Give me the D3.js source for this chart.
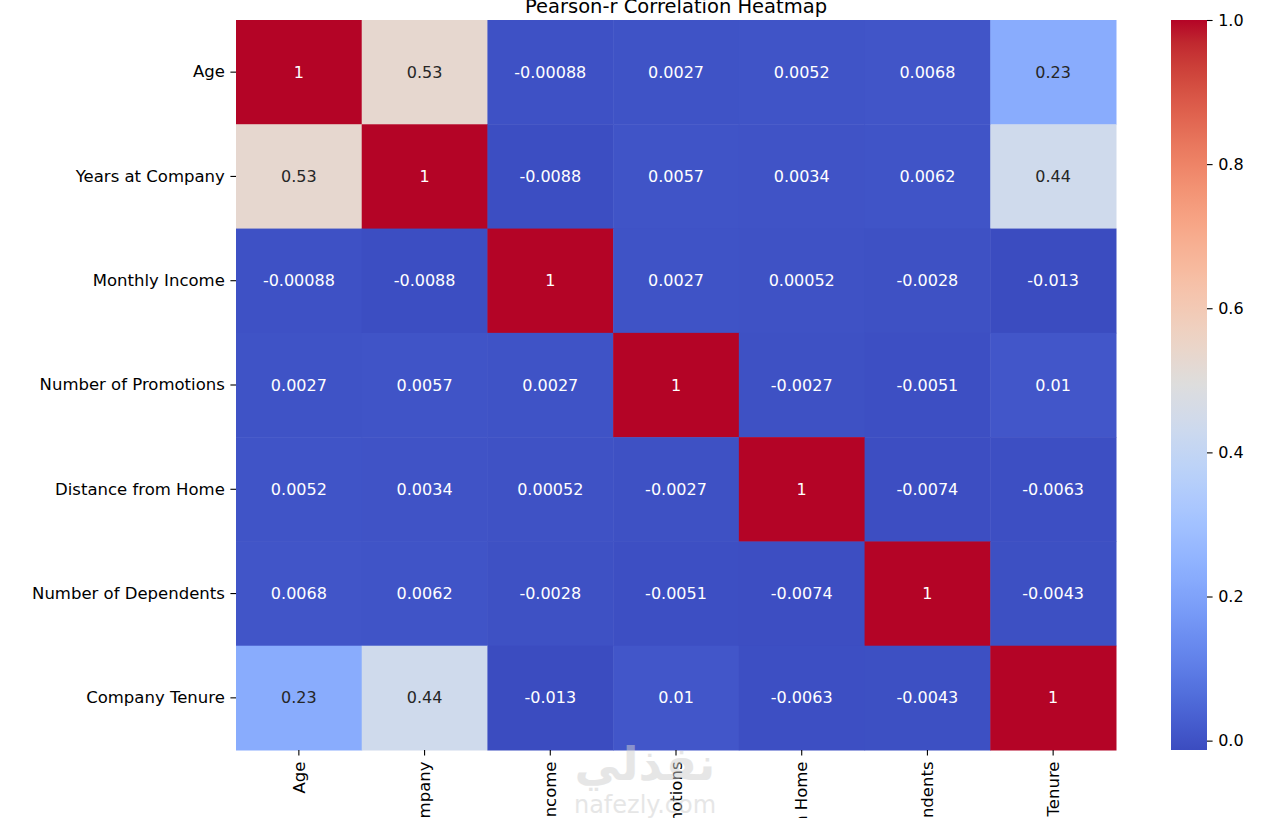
<!DOCTYPE html>
<html>
<head>
<meta charset="utf-8">
<script src="https://cdn.jsdelivr.net/npm/d3@7"></script>
<style>
  html, body { margin: 0; padding: 0; background: #fff; }
  svg { display: block; font-family: "DejaVu Sans", sans-serif; }
</style>
</head>
<body>
<svg id="chart" width="1287" height="818"></svg>
<script>
const labels = ["Age", "Years at Company", "Monthly Income", "Number of Promotions", "Distance from Home", "Number of Dependents", "Company Tenure"];
const rowAge   = [1, 0.53, -0.00088, 0.0027, 0.0052, 0.0068, 0.23];
const rowYears = [0.53, 1, -0.0088, 0.0057, 0.0034, 0.0062, 0.44];
const rowIncome = [-0.00088, -0.0088, 1, 0.0027, 0.00052, -0.0028, -0.013];
const rowPromo = [0.0027, 0.0057, 0.0027, 1, -0.0027, -0.0051, 0.01];
const rowDist  = [0.0052, 0.0034, 0.00052, -0.0027, 1, -0.0074, -0.0063];
const rowDep   = [0.0068, 0.0062, -0.0028, -0.0051, -0.0074, 1, -0.0043];
const rowTenure = [0.23, 0.44, -0.013, 0.01, -0.0063, -0.0043, 1];
const matrix = [rowAge, rowYears, rowIncome, rowPromo, rowDist, rowDep, rowTenure];
const annotText = [
  ["1","0.53","-0.00088","0.0027","0.0052","0.0068","0.23"],
  ["0.53","1","-0.0088","0.0057","0.0034","0.0062","0.44"],
  ["-0.00088","-0.0088","1","0.0027","0.00052","-0.0028","-0.013"],
  ["0.0027","0.0057","0.0027","1","-0.0027","-0.0051","0.01"],
  ["0.0052","0.0034","0.00052","-0.0027","1","-0.0074","-0.0063"],
  ["0.0068","0.0062","-0.0028","-0.0051","-0.0074","1","-0.0043"],
  ["0.23","0.44","-0.013","0.01","-0.0063","-0.0043","1"]
];
const cbTicks = [0.0, 0.2, 0.4, 0.6, 0.8, 1.0];
const title = "Pearson-r Correlation Heatmap";

// coolwarm (Moreland) control points
const coolwarmRGB = [
[59,76,192],[68,90,204],[77,104,215],[87,117,225],[98,130,234],[108,142,241],[119,154,247],[130,165,251],
[141,176,254],[152,185,255],[163,194,255],[174,201,253],[184,208,249],[194,213,244],[204,217,238],[213,219,230],
[221,221,221],[229,216,209],[236,211,197],[241,204,185],[245,196,173],[247,187,160],[247,177,148],[247,166,135],
[244,154,123],[241,141,111],[236,127,99],[229,112,88],[222,96,77],[213,80,66],[203,62,56],[192,40,47],[180,4,38]];
const cw = d3.piecewise(d3.interpolateRgb, coolwarmRGB.map(c => d3.rgb(c[0], c[1], c[2])));

const vmin = d3.min(matrix.flat()), vmax = d3.max(matrix.flat());
const norm = d3.scaleLinear().domain([vmin, vmax]).range([0, 1]).clamp(true);
const color = v => cw(norm(v));

const svg = d3.select("#chart");
const L = 236, R = 1116, T = 20, B = 750;
const x = d3.scaleBand().domain(d3.range(labels.length)).range([L, R]);
const y = d3.scaleBand().domain(d3.range(labels.length)).range([T, B]);

const cells = [];
matrix.forEach((row, i) => row.forEach((v, j) => cells.push({i, j, v, t: annotText[i][j]})));

svg.append("g").selectAll("rect").data(cells).join("rect")
  .attr("x", d => x(d.j)).attr("y", d => y(d.i))
  .attr("width", x.bandwidth() + 0.5).attr("height", y.bandwidth() + 0.5)
  .attr("fill", d => color(d.v));

function lum(c) {
  const r = d3.rgb(c);
  const f = u => { u /= 255; return u <= 0.03928 ? u / 12.92 : Math.pow((u + 0.055) / 1.055, 2.4); };
  return 0.2126 * f(r.r) + 0.7152 * f(r.g) + 0.0722 * f(r.b);
}

svg.append("g").selectAll("text").data(cells).join("text")
  .attr("x", d => x(d.j) + x.bandwidth() / 2)
  .attr("y", d => y(d.i) + y.bandwidth() / 2)
  .attr("text-anchor", "middle").attr("dominant-baseline", "central")
  .attr("font-size", "16px")
  .attr("fill", d => lum(color(d.v)) > 0.408 ? "#262626" : "#ffffff")
  .text(d => d.t);

// Y axis
const yAxis = d3.axisLeft(d3.scaleBand().domain(labels).range([T, B])).tickSize(5.6).tickPadding(5.6);
const gy = svg.append("g").attr("transform", `translate(${L},0)`).call(yAxis);
gy.select(".domain").remove();
gy.selectAll("text").attr("font-size", "16.5px").attr("fill", "#000").attr("font-family", "DejaVu Sans");
gy.selectAll("line").attr("stroke", "#000").attr("stroke-width", 1.1);

// X axis
const xAxis = d3.axisBottom(d3.scaleBand().domain(labels).range([L, R])).tickSize(5.6).tickPadding(5.6);
const gx = svg.append("g").attr("transform", `translate(0,${B})`).call(xAxis);
gx.select(".domain").remove();
gx.selectAll("line").attr("stroke", "#000").attr("stroke-width", 1.1);
gx.selectAll("text")
  .attr("font-size", "16.5px").attr("fill", "#000").attr("font-family", "DejaVu Sans")
  .attr("transform", "rotate(-90)")
  .attr("x", -11.5).attr("y", 0).attr("dy", "0.35em")
  .attr("text-anchor", "end");

// Title
svg.append("text").attr("x", (L + R) / 2).attr("y", 12.5)
  .attr("text-anchor", "middle").attr("font-size", "19.5px").attr("fill", "#000")
  .text(title);

// Colorbar
const cbL = 1171, cbW = 36;
const cbScale = d3.scaleLinear().domain([vmin, vmax]).range([B, T]);
const defs = svg.append("defs");
const grad = defs.append("linearGradient").attr("id", "cbgrad")
  .attr("x1", 0).attr("y1", 1).attr("x2", 0).attr("y2", 0);
d3.range(0, 1.0001, 1 / 64).forEach(t => {
  grad.append("stop").attr("offset", t).attr("stop-color", cw(t));
});
svg.append("rect").attr("x", cbL).attr("y", T).attr("width", cbW).attr("height", B - T)
  .attr("fill", "url(#cbgrad)");
const cbAxis = d3.axisRight(cbScale).tickValues(cbTicks).tickFormat(d3.format(".1f")).tickSize(5.6).tickPadding(5.6);
const gcb = svg.append("g").attr("transform", `translate(${cbL + cbW},0)`).call(cbAxis);
gcb.select(".domain").remove();
gcb.selectAll("line").attr("stroke", "#000").attr("stroke-width", 1.1);
gcb.selectAll("text").attr("font-size", "16px").attr("fill", "#000").attr("font-family", "DejaVu Sans");

// Watermark
const wm = svg.append("g").attr("opacity", 0.5).attr("fill", "#cfcfcf");
wm.append("text").attr("x", 645).attr("y", 780).attr("text-anchor", "middle")
  .attr("font-size", "46px").attr("font-weight", "bold").attr("font-family", "DejaVu Sans")
  .text("نفذلي");
wm.append("text").attr("x", 645).attr("y", 813).attr("text-anchor", "middle")
  .attr("font-size", "24px").attr("font-family", "DejaVu Sans")
  .text("nafezly.com");
</script>
</body>
</html>
